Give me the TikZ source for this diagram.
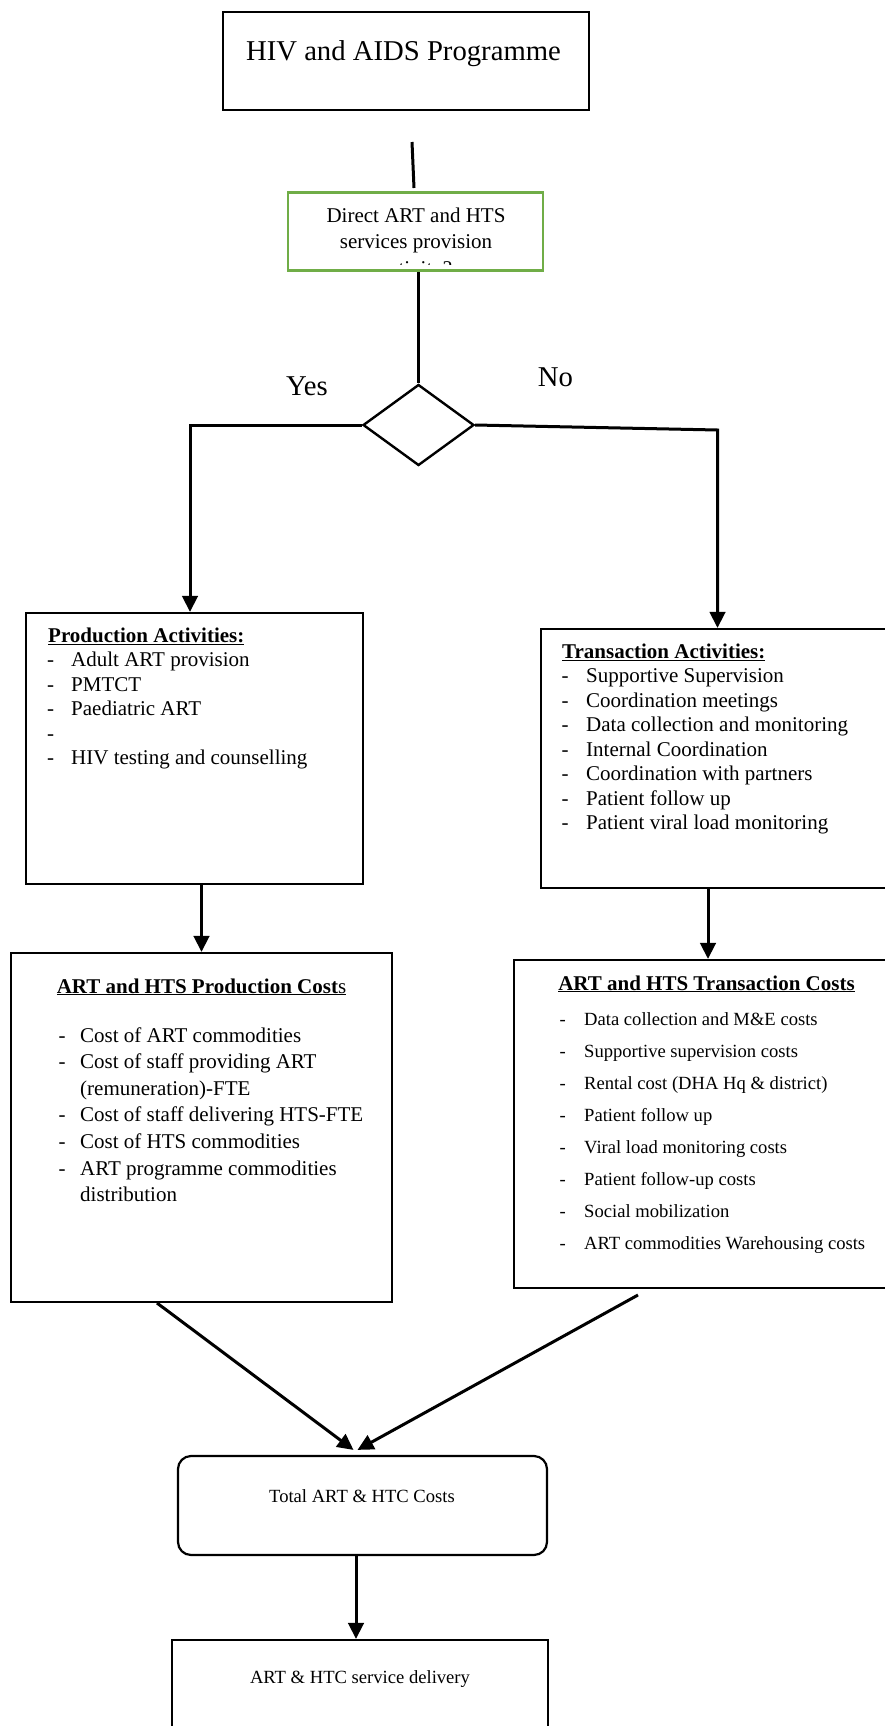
\documentclass[tikz,border=0pt]{standalone}
\usepackage{fontspec}
\setmainfont{Liberation Serif}
\usetikzlibrary{arrows.meta,shapes.geometric,calc}

\definecolor{boxgreen}{HTML}{70AD47}

\newcommand\fsTitle{\fontsize{28.7}{34}\selectfont}
\newcommand\fsBody{\fontsize{21}{25}\selectfont}
\newcommand\fsSmall{\fontsize{18.6}{22}\selectfont}

\tikzset{
  box/.style={draw=black, line width=2.2pt, rectangle, inner sep=0pt},
  greenbox/.style={draw=boxgreen, line width=2.6pt, rectangle, inner sep=0pt},
  decision/.style={draw=black, line width=2.4pt, diamond, inner sep=0pt},
  conn/.style={draw=black, line width=3pt},
  arr/.style={conn, -{Triangle[width=15.5pt,length=16pt]}},
  txt/.style={inner sep=0pt, anchor=base},
  ltxt/.style={inner sep=0pt, anchor=base west},
}

\begin{document}
\begin{tikzpicture}[x=1pt, y=-1pt]
  \useasboundingbox (0,0) rectangle (885,1726);
  \clip (0,0) rectangle (885,1726);

  % boxes
  \node[box, minimum width=366.3pt, minimum height=98.3pt] (prog) at (405.85,60.85) {};
  \node[greenbox, minimum width=255pt, minimum height=78.4pt] (direct) at (415.5,231.5) {};
  \node[decision, minimum width=111pt, minimum height=81pt] (dia) at (418.5,425) {};
  \node[box, minimum width=337pt, minimum height=271pt] (pa) at (194.5,748.5) {};
  \node[box, minimum width=354pt, minimum height=259pt] (ta) at (718,758.5) {};
  \node[box, minimum width=381pt, minimum height=349pt] (pc) at (201.5,1127.5) {};
  \node[box, minimum width=388pt, minimum height=328pt] (tc) at (708,1124) {};
  \node[box, rounded corners=13pt, minimum width=369pt, minimum height=99pt] (total) at (362.5,1505.5) {};
  \node[box, minimum width=376pt, minimum height=120pt] (deliv) at (360,1700) {};

  % box texts
  \node[txt, font=\fsTitle] (progtxt) at (403.5,61) {HIV and AIDS Programme};

  % the question overflows its text area: only the top of its last line shows
  \begin{scope}
    \clip (direct.north west) rectangle (direct.east |- 0,264.5);
    \node[txt, font=\fsBody] (dirA) at (416,222) {Direct ART and HTS};
    \node[txt, font=\fsBody] (dirB) at (416,248) {services provision};
    \node[txt, font=\fsBody] (dirC) at (416,275) {activity?};
  \end{scope}

  \node[txt, font=\fsTitle] (yes) at (307,395) {Yes};
  \node[txt, font=\fsTitle] (no) at (555.5,386) {No};

  % production activities
  \node[ltxt, font=\fsBody] (pahead) at (48,642) {\underline{\textbf{Production Activities:}}};
  \foreach \i/\t in {0/Adult ART provision, 1/PMTCT, 2/Paediatric ART, 3/{}, 4/HIV testing and counselling} {
    \node[ltxt, font=\fsBody] (pa-d\i) at (47,666.5+24.5*\i) {-};
    \node[ltxt, font=\fsBody] (pa-t\i) at (71,666.5+24.5*\i) {\t};
  }

  % transaction activities
  \node[ltxt, font=\fsBody] (tahead) at (562,658) {\underline{\textbf{Transaction Activities:}}};
  \foreach \i/\t in {0/Supportive Supervision, 1/Coordination meetings, 2/Data collection and monitoring,
                     3/Internal Coordination, 4/Coordination with partners, 5/Patient follow up,
                     6/Patient viral load monitoring} {
    \node[ltxt, font=\fsBody] (ta-d\i) at (561.5,682.5+24.5*\i) {-};
    \node[ltxt, font=\fsBody] (ta-t\i) at (586,682.5+24.5*\i) {\t};
  }

  % production costs
  \node[txt, font=\fsBody] (pchead) at (201.5,993) {\underline{\textbf{ART and HTS Production Cost}s}};
  \foreach \i/\d/\t in {0/1/Cost of ART commodities, 1/1/Cost of staff providing ART,
                        2/0/(remuneration)-FTE, 3/1/Cost of staff delivering HTS-FTE,
                        4/1/Cost of HTS commodities, 5/1/ART programme commodities,
                        6/0/distribution} {
    \ifnum\d=1
      \node[ltxt, font=\fsBody] (pc-d\i) at (58.5,1042+26.6*\i) {-};
    \fi
    \node[ltxt, font=\fsBody] (pc-t\i) at (80,1042+26.6*\i) {\t};
  }

  % transaction costs
  \node[txt, font=\fsBody] (tchead) at (706.5,990) {\underline{\textbf{ART and HTS Transaction Costs}}};
  \foreach \i/\t in {0/Data collection and M\&E costs, 1/Supportive supervision costs,
                     2/Rental cost (DHA Hq \& district), 3/Patient follow up,
                     4/Viral load monitoring costs, 5/Patient follow-up costs,
                     6/Social mobilization, 7/ART commodities Warehousing costs} {
    \node[ltxt, font=\fsSmall] (tc-d\i) at (559.5,1025+32*\i) {-};
    \node[ltxt, font=\fsSmall] (tc-t\i) at (584,1025+32*\i) {\t};
  }

  \node[txt, font=\fsSmall] (totaltxt) at (362,1502) {Total ART \& HTC Costs};
  \node[txt, font=\fsSmall] (delivtxt) at (360,1683) {ART \& HTC service delivery};

  % connectors
  \coordinate (c1) at (412,142);
  \coordinate (c2) at (414,188);
  \draw[conn] (c1) -- (c2);
  \draw[conn] (dia.north |- direct.south) -- (dia.north);

  \coordinate (yl) at (190,425);
  \draw[arr] (dia.west) -- (yl) -- (yl |- pa.north);
  \coordinate (nr) at (717.5,430);
  \draw[arr] (dia.east) -- (nr) -- (nr |- ta.north);

  \draw[arr] (pa.south -| pc.north) -- (pc.north);
  \draw[arr] (ta.south -| tc.north) -- (tc.north);

  \coordinate (pl) at (157,1303);
  \coordinate (pr) at (638,1295);
  \draw[arr] (pl) -- ([xshift=-9pt,yshift=5pt]total.north);
  \draw[arr] (pr) -- ([xshift=-5pt,yshift=5pt]total.north);
  \draw[arr] ([xshift=-6.5pt]total.south) -- ([xshift=-4pt]deliv.north);
\end{tikzpicture}
\end{document}
